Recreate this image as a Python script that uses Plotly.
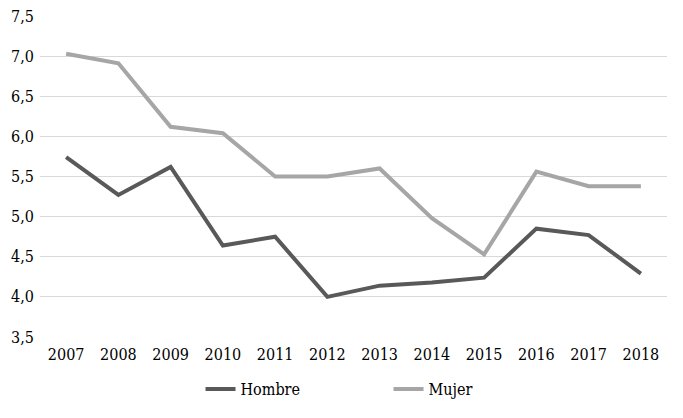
import plotly.graph_objects as go

years = ["2007", "2008", "2009", "2010", "2011", "2012", "2013", "2014", "2015", "2016", "2017", "2018"]
hombre = [5.74, 5.27, 5.62, 4.64, 4.75, 4.00, 4.14, 4.18, 4.24, 4.85, 4.77, 4.29]
mujer = [7.03, 6.91, 6.12, 6.04, 5.50, 5.50, 5.60, 4.98, 4.53, 5.56, 5.38, 5.38]
y_ticks = [3.5, 4.0, 4.5, 5.0, 5.5, 6.0, 6.5, 7.0, 7.5]
y_labels = [f"{v:.1f}".replace(".", ",") for v in y_ticks]

font_family = "DejaVu Serif Condensed, DejaVu Serif"

fig = go.Figure()
fig.add_trace(go.Scatter(x=years, y=hombre, mode="lines", name="Hombre",
                         line=dict(color="#595959", width=4)))
fig.add_trace(go.Scatter(x=years, y=mujer, mode="lines", name="Mujer",
                         line=dict(color="#A6A6A6", width=4)))

fig.update_layout(
    template="none",
    width=683, height=418,
    margin=dict(l=40, r=16, t=16, b=73),
    paper_bgcolor="white", plot_bgcolor="white",
    font=dict(family=font_family, size=16, color="#000000"),
    showlegend=True,
    legend=dict(orientation="h", x=0.256, xanchor="left", y=-0.215, yanchor="bottom",
                entrywidth=143, entrywidthmode="pixels", borderwidth=0,
                bgcolor="rgba(0,0,0,0)",
                font=dict(family=font_family, size=16, color="#000000")),
    xaxis=dict(type="category", range=[-0.5, 11.5], showgrid=False, zeroline=False,
               showline=False, ticks="", tickfont=dict(family=font_family, size=16),
               ticklabelstandoff=6, automargin=False),
    yaxis=dict(range=[3.5, 7.5], tickvals=y_ticks, ticktext=y_labels,
               showgrid=True, gridcolor="#D9D9D9", gridwidth=1, zeroline=False,
               showline=False, ticks="", tickfont=dict(family=font_family, size=16),
               ticklabelstandoff=5, automargin=False),
)

fig.write_html(
    "out.html",
    config={"displayModeBar": False},
    post_script=(
        "document.documentElement.style.margin='0';"
        "document.documentElement.style.overflow='hidden';"
        "document.body.style.margin='0';"
        "document.body.style.overflow='hidden';"
        "document.body.style.height='418px';"
    ),
)
